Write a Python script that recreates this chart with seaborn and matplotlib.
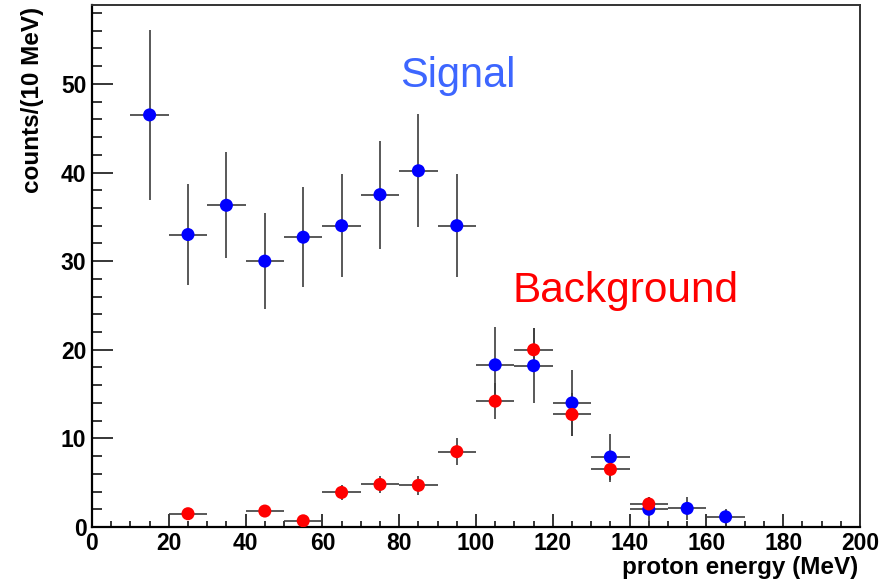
import numpy as np
import pandas as pd
import matplotlib
matplotlib.use("Agg")
import matplotlib.pyplot as plt
from matplotlib.ticker import MultipleLocator
import seaborn as sns

# ---- data ----
sig_energy = [15, 25, 35, 45, 55, 65, 75, 85, 95, 105, 115, 125, 135, 145, 155, 165]
sig_counts = [46.5, 33.0, 36.3, 30.0, 32.7, 34.0, 37.5, 40.2, 34.0, 18.3, 18.2, 14.0, 7.9, 2.0, 2.1, 1.15]
sig_err = [9.6, 5.7, 6.0, 5.4, 5.65, 5.8, 6.1, 6.35, 5.8, 4.3, 4.2, 3.7, 2.6, 1.4, 1.3, 0.9]

bkg_energy = [25, 45, 55, 65, 75, 85, 95, 105, 115, 125, 135, 145]
bkg_counts = [1.5, 1.8, 0.7, 3.9, 4.8, 4.7, 8.5, 14.2, 20.0, 12.7, 6.5, 2.6]
bkg_err = [0.5, 0.5, 0.4, 0.85, 1.0, 1.05, 1.5, 2.0, 2.4, 2.4, 1.4, 0.8]

bin_halfwidth = 5
x_ticks_major = list(range(0, 201, 20))
y_ticks_major = list(range(0, 51, 10))

sns.set_style("ticks")
plt.rcParams['font.family'] = ['Liberation Sans', 'DejaVu Sans']
plt.rcParams['text.color'] = 'black'
plt.rcParams['axes.labelcolor'] = 'black'
plt.rcParams['xtick.color'] = 'black'
plt.rcParams['ytick.color'] = 'black'

fig = plt.figure(figsize=(8.93, 5.83), dpi=100)
ax = fig.add_axes([92 / 893, 1 - 527 / 583, 768 / 893, 522 / 583])

sig = pd.DataFrame({"energy": sig_energy, "counts": sig_counts, "err": sig_err})
bkg = pd.DataFrame({"energy": bkg_energy, "counts": bkg_counts, "err": bkg_err})

ebar_color = "#3c3c3c"
for df in (sig, bkg):
    ax.errorbar(df["energy"], df["counts"], yerr=df["err"],
                xerr=[bin_halfwidth] * len(df), fmt="none",
                ecolor=ebar_color, elinewidth=1.2, capsize=0, zorder=2)

sns.scatterplot(data=sig, x="energy", y="counts", color="#0000ff", s=88,
                edgecolor="none", linewidth=0, ax=ax, zorder=3)
sns.scatterplot(data=bkg, x="energy", y="counts", color="#ff0000", s=88,
                edgecolor="none", linewidth=0, ax=ax, zorder=4)

ax.set_xlim(0, 200)
ax.set_ylim(0, 58.9)
ax.set_xticks(x_ticks_major)
ax.set_yticks(y_ticks_major)
ax.xaxis.set_minor_locator(MultipleLocator(5))
ax.yaxis.set_minor_locator(MultipleLocator(2))

ax.tick_params(axis="x", which="major", direction="in", length=9.6, width=1.1, pad=3.5)
ax.tick_params(axis="x", which="minor", direction="in", length=4.5, width=1.1)
ax.tick_params(axis="y", which="major", direction="in", length=15, width=1.1, pad=4)
ax.tick_params(axis="y", which="minor", direction="in", length=7, width=1.1)
ax.tick_params(top=False, right=False, which="both", colors="black", labelcolor="black")
for lbl in ax.get_xticklabels() + ax.get_yticklabels():
    lbl.set_fontsize(16.5)
    lbl.set_fontweight("bold")

for s in ("left", "bottom"):
    ax.spines[s].set_linewidth(1.6)
    ax.spines[s].set_color("black")
for s in ("top", "right"):
    ax.spines[s].set_visible(True)
    ax.spines[s].set_linewidth(1.4)
    ax.spines[s].set_color("#333333")

ax.set_xlabel("proton energy (MeV)", fontsize=17.5, fontweight="bold", loc="right", color="black")
ax.xaxis.set_label_coords(1 - 2 / 768, -(556 - 527) / 522)
ax.set_ylabel("counts/(10 MeV)", fontsize=17.5, fontweight="bold", loc="top", color="black")
ax.yaxis.set_label_coords(-(92 - 44) / 768, 1 - 2 / 522)

ax.text(80.2, 49.7, "Signal", color="#3d66ff", fontsize=30, va="baseline", ha="left")
ax.text(109.5, 25.4, "Background", color="#ff0000", fontsize=30.5, va="baseline", ha="left")

fig.savefig("out.png", dpi=100)
